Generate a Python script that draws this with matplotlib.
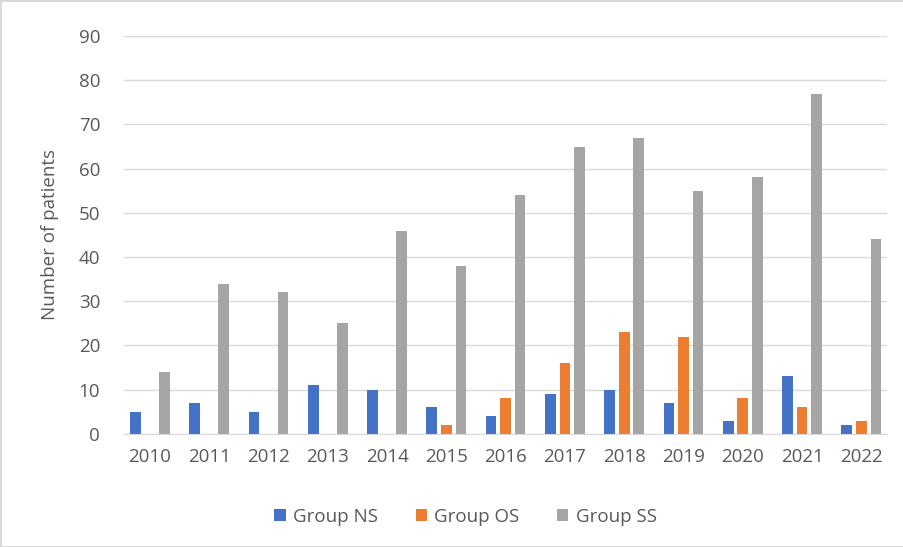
import matplotlib.pyplot as plt
import numpy as np

years = ['2010', '2011', '2012', '2013', '2014', '2015', '2016',
         '2017', '2018', '2019', '2020', '2021', '2022']
group_ns = [5, 7, 5, 11, 10, 6, 4, 9, 10, 7, 3, 13, 2]
group_os = [0, 0, 0, 0, 0, 2, 8, 16, 23, 22, 8, 6, 3]
group_ss = [14, 34, 32, 25, 46, 38, 54, 65, 67, 55, 58, 77, 44]

plt.rcParams['font.family'] = ['Open Sans', 'DejaVu Sans']
text_col = '#595959'

fig = plt.figure(figsize=(9.04, 5.47), dpi=100)
fig.patch.set_edgecolor('#d9d9d9')
fig.patch.set_linewidth(2)
ax = fig.add_axes([0.137, 0.207, 0.844, 0.727])

x = np.arange(len(years))
w = 0.18
step = 0.245
ax.bar(x - step, group_ns, w, color='#4472c4', label='Group NS')
ax.bar(x, group_os, w, color='#ed7d31', label='Group OS')
ax.bar(x + step, group_ss, w, color='#a5a5a5', label='Group SS')

ax.set_ylim(0, 90)
ax.set_yticks(range(0, 91, 10))
ax.set_xlim(-0.44, len(years) - 0.57)
ax.set_xticks(x)
ax.set_xticklabels(years)
ax.grid(axis='y', color='#d9d9d9', linewidth=1)
ax.set_axisbelow(True)
for s in ['top', 'right', 'left']:
    ax.spines[s].set_visible(False)
ax.spines['bottom'].set_color('#d9d9d9')
ax.tick_params(length=0, labelsize=13.5, colors=text_col, pad=10)
ax.tick_params(axis='y', pad=17)
ax.set_ylabel('Number of patients', fontsize=13.5, color=text_col, labelpad=14)

fig.legend(loc='center', bbox_to_anchor=(0.515, 0.055), ncol=3, frameon=False,
           fontsize=13.5, labelcolor=text_col, handlelength=0.6, handleheight=0.6,
           columnspacing=2.0, handletextpad=0.4)

fig.savefig('out.png', dpi=100)
